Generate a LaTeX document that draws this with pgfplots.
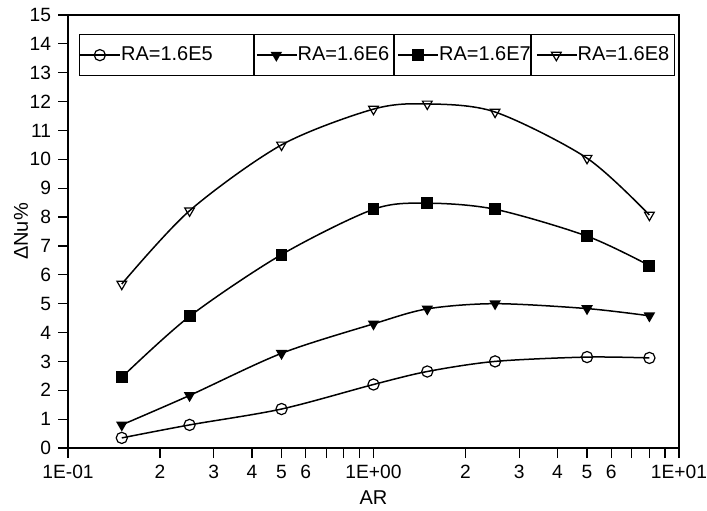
\documentclass[border=0pt]{standalone}
\usepackage{fontspec}
\setmainfont{Liberation Sans}
\usepackage{pgfplots}
\pgfplotsset{compat=1.18}
\usetikzlibrary{calc}
\begin{document}
\begin{tikzpicture}
\begin{axis}[
  xmode=log, scale only axis, width=305.5pt, height=216.5pt,
  xmin=0.1, xmax=10, ymin=0, ymax=15,
  ytick={0,1,...,15},
  xtick={0.1,0.2,0.3,0.4,0.5,0.6,1,2,3,4,5,6,10},
  xticklabels={1E-01,2,3,4,5,6,1E+00,2,3,4,5,6,1E+01},
  minor xtick={0.7,0.8,0.9,7,8,9},
  tick pos=left, tick align=outside,
  major tick length=5pt, minor tick length=5pt,
  every tick/.style={black, line width=0.6pt},
  axis line style={line width=0.6pt},
  /pgf/number format/assume math mode=true,
  font=\fontsize{10}{12}\selectfont,
  tick label style={font=\fontsize{9.6}{11}\selectfont},
  xlabel={AR}, ylabel={ΔNu\%},
  xlabel style={at={(axis description cs:0.5,-0.115)}, anchor=center},
  ylabel style={at={(axis description cs:-0.077,0.5)}, anchor=center},
  legend columns=4,
  legend style={name=leg, at={(0.018,0.956)}, anchor=north west, draw=black,
    line width=0.6pt, inner xsep=0pt, inner ysep=6pt, column sep=0pt,
    nodes={inner sep=0pt}},
  legend image code/.code={\path (-4pt,0pt) -- (16pt,0pt);
    \draw[mark repeat=2, mark phase=2] plot coordinates {(0pt,0pt) (5.75pt,0pt) (11.5pt,0pt)};},
]
\coordinate (SW) at (rel axis cs:0,0);
\coordinate (NE) at (rel axis cs:1,1);
\addplot[black, line width=0.75pt, smooth, mark=o, mark size=2.8pt, mark options={solid, line width=0.6pt}]
  coordinates {(0.15,0.35) (0.25,0.8) (0.5,1.35) (1,2.2) (1.5,2.65) (2.5,3.0) (5,3.15) (8,3.12)};
\addlegendentry{\makebox[67.5pt][l]{RA=1.6E5}}
\addplot[black, line width=0.75pt, smooth, mark=triangle*, mark size=2.6pt, mark options={solid, rotate=180, fill=black}]
  coordinates {(0.15,0.8) (0.25,1.82) (0.5,3.28) (1,4.3) (1.5,4.82) (2.5,5.0) (5,4.83) (8,4.58)};
\addlegendentry{\makebox[50pt][l]{RA=1.6E6}}
\addplot[black, line width=0.75pt, smooth, mark=square*, mark size=2.6pt, mark options={solid, fill=black}]
  coordinates {(0.15,2.45) (0.25,4.56) (0.5,6.7) (1,8.27) (1.5,8.48) (2.5,8.27) (5,7.34) (8,6.32)};
\addlegendentry{\makebox[48.5pt][l]{RA=1.6E7}}
\addplot[black, line width=0.75pt, smooth, mark=triangle, mark size=2.8pt, mark options={solid, rotate=180, fill=white, line width=0.6pt}]
  coordinates {(0.15,5.68) (0.25,8.22) (0.5,10.5) (1,11.74) (1.5,11.92) (2.5,11.64) (5,10.04) (8,8.07)};
\addlegendentry{\makebox[48.5pt][l]{RA=1.6E8}}
\end{axis}
\draw[line width=0.6pt] ([xshift=87.5pt]leg.north west) -- ([xshift=87.5pt]leg.south west);
\draw[line width=0.6pt] ([xshift=157.5pt]leg.north west) -- ([xshift=157.5pt]leg.south west);
\draw[line width=0.6pt] ([xshift=226pt]leg.north west) -- ([xshift=226pt]leg.south west);
\pgfresetboundingbox
\path ($(SW)+(-34pt,-31pt)$) rectangle ($(NE)+(14pt,7.5pt)$);
\end{tikzpicture}
\end{document}
